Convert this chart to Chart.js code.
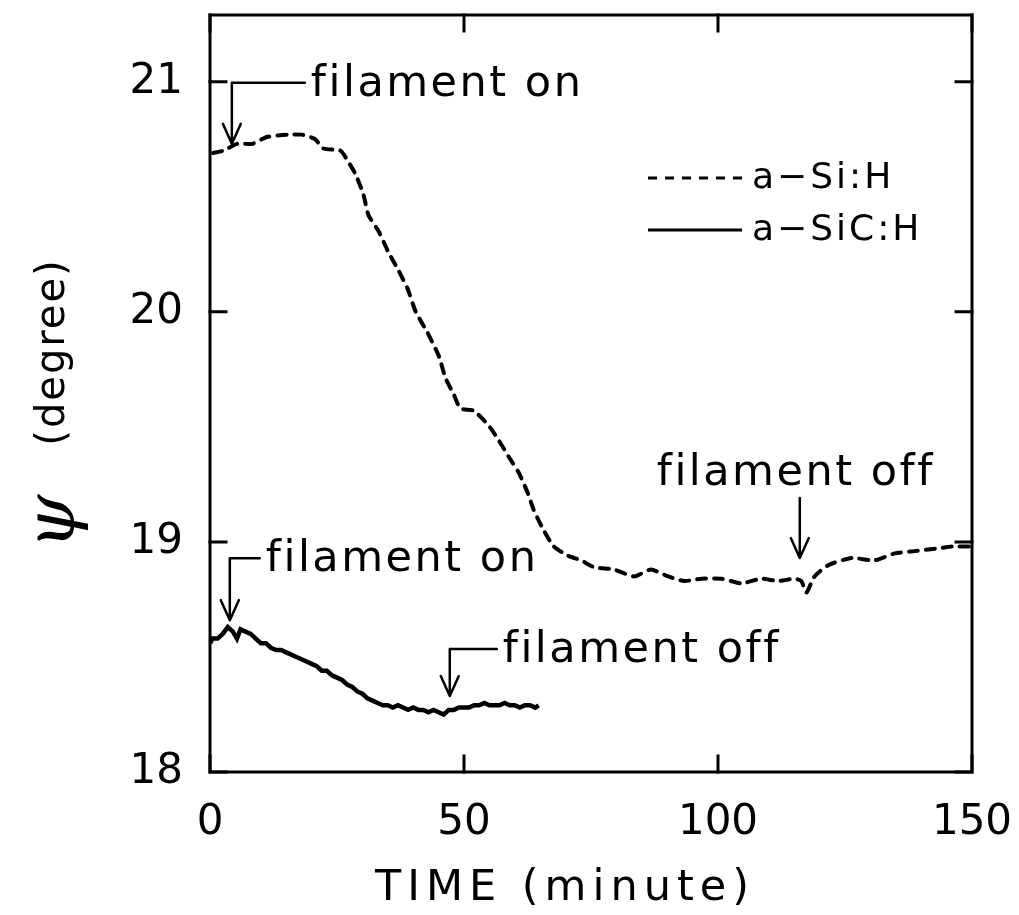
<!DOCTYPE html>
<html>
<head>
<meta charset="utf-8">
<script src="https://cdn.jsdelivr.net/npm/chart.js@4/dist/chart.umd.min.js"></script>
<style>
  body { margin: 0; background: #fff; }
  canvas { display: block; }
</style>
</head>
<body>
<canvas id="grafico" width="1019" height="915"></canvas>
<script>
// a-Si:H, psi vs time (dashed)
const siTime = [0.6, 2.6, 5.3, 8.3, 11.2, 15.2, 18.1, 20.7, 22.3, 25.7,
  27, 28.6, 30.2, 31.2, 33.2, 35.1, 37.1, 38.9, 40.5, 42.8,
  45, 46.4, 48, 49.3, 51.9, 54.7, 56.6, 58.8, 60.8, 62.6,
  63.7, 65.7, 67.7, 70.5, 73, 75.6, 79.5, 83.5, 86.8, 90.2,
  93.4, 96.7, 100.7, 104.6, 108.5, 111.9, 115, 116.4, 117.4, 119,
  121.8, 126.3, 130.8, 134.8, 138.7, 142.7, 146, 150];
const siPsi = [20.69, 20.70, 20.73, 20.73, 20.76, 20.77, 20.77, 20.75, 20.71, 20.70,
  20.66, 20.60, 20.51, 20.42, 20.35, 20.26, 20.18, 20.10, 20.00, 19.91,
  19.81, 19.71, 19.64, 19.58, 19.57, 19.51, 19.45, 19.37, 19.30, 19.21,
  19.14, 19.05, 18.98, 18.94, 18.92, 18.89, 18.88, 18.85, 18.88, 18.85,
  18.83, 18.84, 18.84, 18.82, 18.84, 18.83, 18.84, 18.83, 18.78, 18.85,
  18.90, 18.93, 18.92, 18.95, 18.96, 18.97, 18.98, 18.98];

// a-SiC:H, psi vs time (solid)
const sicTime = [0, 0.5, 1.5, 2.5, 3.5, 4.5, 5.3, 6, 7, 8,
  9, 10, 11, 12, 13, 14, 15, 16, 17, 18,
  19, 20, 21, 22, 23, 24, 25, 26, 27, 28,
  29, 30, 31, 32, 33, 34, 35, 36, 37, 38,
  39, 40, 41, 42, 43, 44, 45, 46, 47, 48,
  49, 50, 51, 52, 53, 54, 55, 56, 57, 58,
  59, 60, 61, 62, 63, 64, 64.7];
const sicPsi = [18.56, 18.58, 18.58, 18.60, 18.63, 18.61, 18.58, 18.62, 18.61, 18.60,
  18.58, 18.56, 18.56, 18.54, 18.53, 18.53, 18.52, 18.51, 18.50, 18.49,
  18.48, 18.47, 18.46, 18.44, 18.44, 18.42, 18.41, 18.40, 18.38, 18.37,
  18.35, 18.34, 18.32, 18.31, 18.30, 18.29, 18.29, 18.28, 18.29, 18.28,
  18.27, 18.28, 18.27, 18.27, 18.26, 18.27, 18.26, 18.25, 18.27, 18.27,
  18.28, 18.28, 18.28, 18.29, 18.29, 18.30, 18.29, 18.29, 18.29, 18.30,
  18.29, 18.29, 18.28, 18.29, 18.29, 18.28, 18.29];

const xTicks = [0, 50, 100, 150];
const yTicks = [18, 19, 20, 21];

// filament on/off marks: label, time and psi at the arrow tip
const eventText = ['filament on', 'filament off', 'filament on', 'filament off'];
const eventTime = [4.3, 116.1, 3.9, 47.2];
const eventPsi = [20.73, 18.93, 18.66, 18.33];

const FONT = '"DejaVu Sans", sans-serif';

// leader line layout for each mark (stem length, arm length, label side)
const leaders = [
  { stem: 61, arm: 73, side: 'right' },
  { stem: 60, arm: 0, side: 'top' },
  { stem: 62, arm: 30, side: 'right' },
  { stem: 47, arm: 47, side: 'right' }
];

const cuadro = {
  id: 'cuadro',
  afterDraw(chart) {
    const ctx = chart.ctx;
    const { left, right, top, bottom } = chart.chartArea;
    const x = chart.scales.x, y = chart.scales.y;
    ctx.save();
    ctx.strokeStyle = '#000';
    ctx.lineCap = 'square';

    // frame and inward ticks on all four sides
    ctx.lineWidth = 3;
    ctx.strokeRect(left, top, right - left, bottom - top);
    ctx.beginPath();
    xTicks.forEach(v => {
      const px = x.getPixelForValue(v);
      ctx.moveTo(px, bottom); ctx.lineTo(px, bottom - 16);
      ctx.moveTo(px, top); ctx.lineTo(px, top + 16);
    });
    yTicks.forEach(v => {
      const py = y.getPixelForValue(v);
      ctx.moveTo(left, py); ctx.lineTo(left + 16, py);
      ctx.moveTo(right, py); ctx.lineTo(right - 16, py);
    });
    ctx.stroke();

    // arrows with labels
    ctx.lineWidth = 2.5;
    ctx.lineCap = 'round';
    ctx.lineJoin = 'round';
    ctx.fillStyle = '#000';
    ctx.font = '43px ' + FONT;
    ctx.letterSpacing = '2.5px';
    ctx.textBaseline = 'middle';
    eventText.forEach((txt, i) => {
      const px = x.getPixelForValue(eventTime[i]);
      const py = y.getPixelForValue(eventPsi[i]);
      const l = leaders[i];
      const yTop = py - l.stem;
      ctx.beginPath();
      ctx.moveTo(px, py); ctx.lineTo(px, yTop);
      if (l.arm) ctx.lineTo(px + l.arm, yTop);
      ctx.moveTo(px - 9, py - 20); ctx.lineTo(px, py); ctx.lineTo(px + 9, py - 20);
      ctx.stroke();
      if (l.side === 'right') {
        ctx.textAlign = 'left';
        ctx.fillText(txt, px + l.arm + 6, yTop + 2);
      } else {
        ctx.textAlign = 'center';
        ctx.fillText(txt, px - 4, yTop - 24);
      }
    });

    // legend
    const lx = right - 324, ly = top + 163;
    ctx.font = '36px ' + FONT;
    ctx.letterSpacing = '3px';
    ctx.textAlign = 'left';
    chart.data.datasets.forEach((ds, i) => {
      const yy = ly + i * 52;
      ctx.beginPath();
      ctx.lineWidth = 3;
      ctx.lineCap = 'butt';
      ctx.setLineDash(ds.borderDash || []);
      ctx.moveTo(lx, yy); ctx.lineTo(lx + 94, yy);
      ctx.stroke();
      ctx.setLineDash([]);
      ctx.fillText(ds.label, lx + 104, yy + 1);
    });

    // axis titles
    ctx.letterSpacing = '6px';
    ctx.textAlign = 'center';
    ctx.font = '43px ' + FONT;
    ctx.fillText('TIME (minute)', (left + right) / 2 - 26, bottom + 117);

    ctx.translate(54, 0);
    ctx.rotate(-Math.PI / 2);
    ctx.letterSpacing = '2px';
    ctx.font = '40px ' + FONT;
    ctx.fillText('(degree)', -352, 0);
    ctx.letterSpacing = '0px';
    ctx.font = 'italic 70px "DejaVu Serif", serif';
    ctx.fillText('ψ', -522, 2);
    ctx.restore();
  }
};

const ctx = document.getElementById('grafico').getContext('2d');
new Chart(ctx, {
  type: 'line',
  data: {
    datasets: [{
      label: 'a−Si:H',
      data: siTime.map((t, i) => ({ x: t, y: siPsi[i] })),
      borderColor: '#000',
      borderWidth: 4,
      borderDash: [9, 8],
      borderCapStyle: 'round',
      pointRadius: 0,
      tension: 0.2,
      fill: false
    }, {
      label: 'a−SiC:H',
      data: sicTime.map((t, i) => ({ x: t, y: sicPsi[i] })),
      borderColor: '#000',
      borderWidth: 4.5,
      pointRadius: 0,
      tension: 0,
      fill: false
    }]
  },
  options: {
    responsive: false,
    animation: false,
    devicePixelRatio: 1,
    layout: { padding: { left: 0, top: 15, right: 47, bottom: 0 } },
    plugins: { legend: { display: false }, tooltip: { enabled: false } },
    scales: {
      x: {
        type: 'linear',
        min: 0,
        max: 150,
        afterFit: s => { s.height = 143; s.paddingLeft = 0; s.paddingRight = 0; },
        afterBuildTicks: s => { s.ticks = xTicks.map(v => ({ value: v })); },
        grid: { display: false, drawTicks: false },
        border: { display: false },
        ticks: { padding: 26, color: '#000', font: { family: FONT, size: 42 } }
      },
      y: {
        type: 'linear',
        min: 18,
        max: 21.29,
        afterFit: s => { s.width = 210; s.paddingTop = 0; s.paddingBottom = 0; },
        afterBuildTicks: s => { s.ticks = yTicks.map(v => ({ value: v })); },
        grid: { display: false, drawTicks: false },
        border: { display: false },
        ticks: { padding: 27, color: '#000', font: { family: FONT, size: 42 } }
      }
    }
  },
  plugins: [cuadro]
});
</script>
</body>
</html>
